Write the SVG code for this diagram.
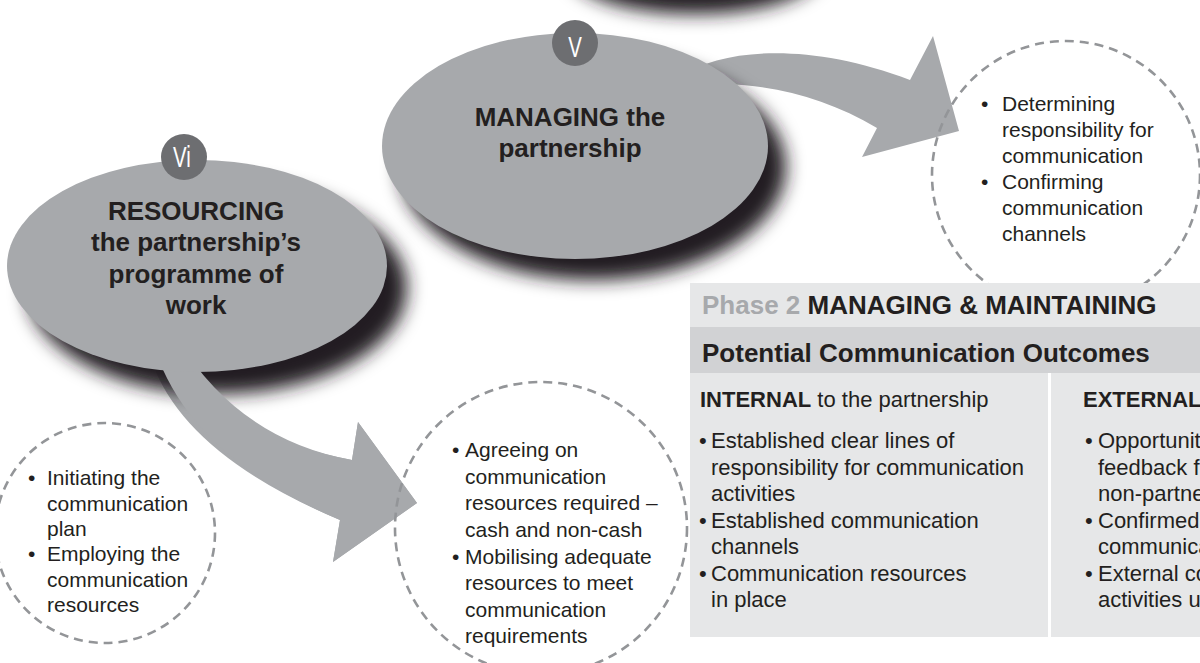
<svg xmlns="http://www.w3.org/2000/svg" width="1200" height="663" viewBox="0 0 1200 663">
<defs>
<filter id="soft" x="-30%" y="-30%" width="160%" height="160%"><feGaussianBlur stdDeviation="9"/></filter>
<style>
.shape{fill:#a7a9ac}
.shadow{fill:#231f20;filter:url(#soft)}
.badge{fill:#6d6e71}
.badgetxt{font-family:"Liberation Sans",Arial,sans-serif;font-size:30px;fill:#ffffff;text-anchor:middle}
.title{font-family:"Liberation Sans",Arial,sans-serif;font-weight:bold;font-size:26px;fill:#231f20;text-anchor:middle}
.dash{fill:none;stroke:#939598;stroke-width:2.6;stroke-dasharray:9 6}
.ct{font-family:"Liberation Sans",Arial,sans-serif;font-size:21px;fill:#231f20}
.ph{font-family:"Liberation Sans",Arial,sans-serif;font-weight:bold;font-size:26px;fill:#231f20}
.grey{fill:#a7a9ac}
.pt{font-family:"Liberation Sans",Arial,sans-serif;font-size:22px;fill:#231f20}
.b{font-weight:bold}
</style>
</defs>
<rect width="1200" height="663" fill="#ffffff"/>

<g id="top-shadow">
<ellipse cx="695" cy="-28" rx="125" ry="42" class="shadow"/>
</g>

<g id="connectors">
<path id="arrow-v" class="shape" d="M 680,76 C 725,48 810,42 910,80 L 933,36 L 959,131 L 862,157 L 877,128 C 830,100 780,86 726,84 Z"/>
<path id="arrow-vi" class="shape" d="M 152,362 Q 185,455 340,520 L 333,562 L 417,503 L 358,422 L 352,460 Q 240,440 178,362 Z"/>
</g>

<g id="node-v">
<ellipse cx="593" cy="167" rx="193" ry="113" class="shadow"/>
<ellipse cx="575" cy="146" rx="193" ry="113" class="shape"/>
<circle cx="575" cy="43" r="23" class="badge"/>
<text class="badgetxt" transform="translate(575,57) scale(0.68,1)">V</text>
<text class="title" x="570" y="126">MANAGING the</text>
<text class="title" x="570" y="157">partnership</text>
</g>

<g id="node-vi">
<ellipse cx="217" cy="288" rx="190" ry="106" class="shadow"/>
<path class="shape" d="M 152,340 Q 185,455 340,520 L 333,562 L 417,503 L 358,422 L 352,460 Q 240,440 178,340 Z"/>
<ellipse cx="197" cy="266" rx="190" ry="106" class="shape"/>
<circle cx="184" cy="157" r="23" class="badge"/>
<text class="badgetxt" transform="translate(182,167) scale(0.68,1)">Vi</text>
<text class="title" x="196" y="220">RESOURCING</text>
<text class="title" x="196" y="251">the partnership’s</text>
<text class="title" x="196" y="283">programme of</text>
<text class="title" x="196" y="314">work</text>
</g>

<g id="circle-managing">
<circle cx="1066" cy="175" r="134" class="dash"/>
<text class="ct"><tspan x="981" y="111">•</tspan><tspan x="1002" y="111">Determining</tspan></text>
<text class="ct" x="1002" y="137">responsibility for</text>
<text class="ct" x="1002" y="163">communication</text>
<text class="ct"><tspan x="981" y="189">•</tspan><tspan x="1002" y="189">Confirming</tspan></text>
<text class="ct" x="1002" y="215">communication</text>
<text class="ct" x="1002" y="241">channels</text>
</g>

<g id="circle-resourcing">
<circle cx="541" cy="528" r="146" class="dash"/>
<text class="ct"><tspan x="452" y="457">•</tspan><tspan x="465" y="457">Agreeing on</tspan></text>
<text class="ct" x="465" y="484">communication</text>
<text class="ct" x="465" y="510">resources required –</text>
<text class="ct" x="465" y="537">cash and non-cash</text>
<text class="ct"><tspan x="452" y="564">•</tspan><tspan x="465" y="564">Mobilising adequate</tspan></text>
<text class="ct" x="465" y="590">resources to meet</text>
<text class="ct" x="465" y="617">communication</text>
<text class="ct" x="465" y="643">requirements</text>
</g>

<g id="circle-initiating">
<circle cx="105" cy="533" r="110" class="dash"/>
<text class="ct"><tspan x="28" y="485">•</tspan><tspan x="47" y="485">Initiating the</tspan></text>
<text class="ct" x="47" y="511">communication</text>
<text class="ct" x="47" y="536">plan</text>
<text class="ct"><tspan x="28" y="561">•</tspan><tspan x="47" y="561">Employing the</tspan></text>
<text class="ct" x="47" y="587">communication</text>
<text class="ct" x="47" y="612">resources</text>
</g>

<g id="phase-panel">
<rect x="690" y="283" width="510" height="44" fill="#e6e7e8"/>
<rect x="690" y="327" width="510" height="46" fill="#d1d2d4"/>
<rect x="690" y="373" width="510" height="264" fill="#e6e7e8"/>
<rect x="1048" y="373" width="3" height="264" fill="#ffffff"/>
<text class="ph" x="702" y="314"><tspan class="grey">Phase 2</tspan> MANAGING &amp; MAINTAINING</text>
<text class="ph" x="702" y="362">Potential Communication Outcomes</text>
<text class="pt" x="700" y="407"><tspan class="b">INTERNAL</tspan> to the partnership</text>
<text class="pt"><tspan x="699" y="448">•</tspan><tspan x="711" y="448">Established clear lines of</tspan></text>
<text class="pt" x="711" y="475">responsibility for communication</text>
<text class="pt" x="711" y="501">activities</text>
<text class="pt"><tspan x="699" y="528">•</tspan><tspan x="711" y="528">Established communication</tspan></text>
<text class="pt" x="711" y="554">channels</text>
<text class="pt"><tspan x="699" y="581">•</tspan><tspan x="711" y="581">Communication resources</tspan></text>
<text class="pt" x="711" y="607">in place</text>
<text class="pt b" x="1083" y="407">EXTERNAL</text>
<text class="pt"><tspan x="1085" y="448">•</tspan><tspan x="1098" y="448">Opportunit</tspan></text>
<text class="pt" x="1098" y="475">feedback f</text>
<text class="pt" x="1098" y="501">non-partne</text>
<text class="pt"><tspan x="1085" y="528">•</tspan><tspan x="1098" y="528">Confirmed</tspan></text>
<text class="pt" x="1098" y="554">communica</text>
<text class="pt"><tspan x="1085" y="581">•</tspan><tspan x="1098" y="581">External co</tspan></text>
<text class="pt" x="1098" y="607">activities u</text>
</g>
</svg>
